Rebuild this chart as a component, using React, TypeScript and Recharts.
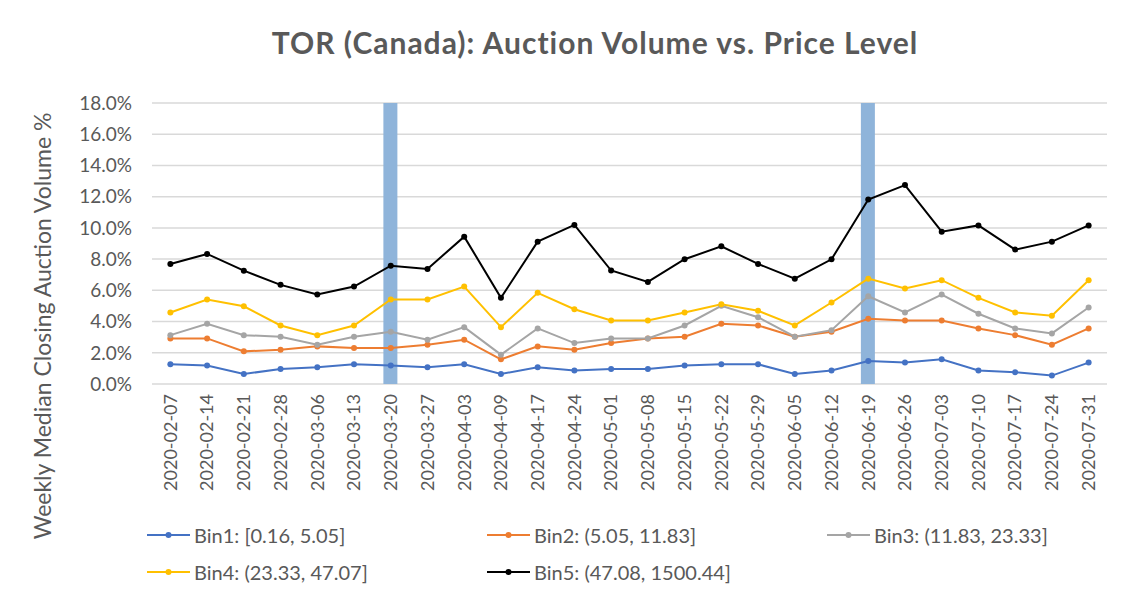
import React from "react";
import { ComposedChart, Line, Bar, XAxis, YAxis, CartesianGrid } from "recharts";

const WEEKS = [
  "2020-02-07", "2020-02-14", "2020-02-21", "2020-02-28", "2020-03-06", "2020-03-13",
  "2020-03-20", "2020-03-27", "2020-04-03", "2020-04-09", "2020-04-17", "2020-04-24",
  "2020-05-01", "2020-05-08", "2020-05-15", "2020-05-22", "2020-05-29", "2020-06-05",
  "2020-06-12", "2020-06-19", "2020-06-26", "2020-07-03", "2020-07-10", "2020-07-17",
  "2020-07-24", "2020-07-31",
];

// weekly median closing auction volume, in %
const BIN1 = [1.26, 1.18, 0.64, 0.96, 1.07, 1.26, 1.18, 1.07, 1.26, 0.64, 1.07, 0.86, 0.96, 0.96, 1.18, 1.26, 1.26, 0.64, 0.86, 1.47, 1.37, 1.58, 0.86, 0.75, 0.54, 1.37];
const BIN2 = [2.92, 2.92, 2.09, 2.2, 2.41, 2.3, 2.3, 2.52, 2.84, 1.58, 2.41, 2.2, 2.62, 2.92, 3.03, 3.86, 3.75, 3.03, 3.35, 4.18, 4.07, 4.07, 3.56, 3.13, 2.52, 3.56];
const BIN3 = [3.13, 3.86, 3.13, 3.03, 2.52, 3.03, 3.35, 2.84, 3.64, 1.88, 3.56, 2.62, 2.92, 2.92, 3.75, 5.01, 4.28, 3.03, 3.45, 5.62, 4.58, 5.73, 4.5, 3.56, 3.24, 4.9];
const BIN4 = [4.58, 5.41, 4.98, 3.75, 3.13, 3.75, 5.41, 5.41, 6.24, 3.64, 5.84, 4.79, 4.07, 4.07, 4.58, 5.11, 4.69, 3.75, 5.22, 6.75, 6.12, 6.65, 5.52, 4.58, 4.37, 6.65];
const BIN5 = [7.69, 8.33, 7.26, 6.35, 5.73, 6.24, 7.58, 7.37, 9.44, 5.52, 9.12, 10.19, 7.27, 6.54, 7.99, 8.82, 7.69, 6.75, 7.99, 11.82, 12.74, 9.76, 10.16, 8.61, 9.12, 10.16];

const HIGHLIGHT_WEEKS = ["2020-03-20", "2020-06-19"];
const HIGHLIGHT_LEVEL = 18;
const Y_TICKS = [0, 2, 4, 6, 8, 10, 12, 14, 16, 18];

const SERIES = [
  { key: "bin1", name: "Bin1: [0.16, 5.05]", color: "#4472C4", values: BIN1 },
  { key: "bin2", name: "Bin2: (5.05, 11.83]", color: "#ED7D31", values: BIN2 },
  { key: "bin3", name: "Bin3: (11.83, 23.33]", color: "#A5A5A5", values: BIN3 },
  { key: "bin4", name: "Bin4: (23.33, 47.07]", color: "#FFC000", values: BIN4 },
  { key: "bin5", name: "Bin5: (47.08, 1500.44]", color: "#000000", values: BIN5 },
];

const data = WEEKS.map((week, i) => {
  const row: Record<string, string | number | null> = {
    week,
    highlight: HIGHLIGHT_WEEKS.includes(week) ? HIGHLIGHT_LEVEL : null,
  };
  SERIES.forEach((s) => (row[s.key] = s.values[i]));
  return row;
});

const FONT = "Lato, 'Open Sans', sans-serif";
const TEXT = "#595959";

function WeekTick({ x, y, payload }: { x?: number; y?: number; payload?: { value: string } }) {
  return (
    <text
      x={x}
      y={y}
      transform={`rotate(-90, ${x}, ${y})`}
      textAnchor="end"
      dy="0.35em"
      fill={TEXT}
      fontSize={18}
      fontFamily={FONT}
    >
      {payload?.value}
    </text>
  );
}

export default function App() {
  return (
    <div style={{ position: "relative", width: 1144, height: 614, margin: -8, background: "#fff", fontFamily: FONT }}>
      <div
        style={{
          position: "absolute",
          left: 7,
          top: 4,
          width: 1136,
          height: 609,
          border: "1px solid #D9D9D9",
          boxSizing: "border-box",
        }}
      />
      <div
        style={{
          position: "absolute",
          left: 0,
          width: 1190,
          top: 24,
          textAlign: "center",
          fontSize: 30,
          letterSpacing: 1,
          fontWeight: 700,
          color: TEXT,
        }}
      >
        TOR (Canada): Auction Volume vs. Price Level
      </div>
      <div
        style={{
          position: "absolute",
          left: 42,
          top: 326,
          transform: "translate(-50%, -50%) rotate(-90deg)",
          whiteSpace: "nowrap",
          fontSize: 23,
          color: TEXT,
        }}
      >
        Weekly Median Closing Auction Volume %
      </div>
      <div style={{ position: "absolute", left: 0, top: 0 }}>
        <ComposedChart width={1144} height={614} data={data} margin={{ top: 103, right: 37, bottom: 120, left: 92 }}>
          <CartesianGrid vertical={false} stroke="#D9D9D9" strokeWidth={1.5} />
          <XAxis
            dataKey="week"
            axisLine={false}
            tickLine={false}
            interval={0}
            height={110}
            tickMargin={4}
            tick={<WeekTick />}
          />
          <YAxis
            domain={[0, 18]}
            ticks={Y_TICKS}
            width={60}
            axisLine={false}
            tickLine={false}
            tickMargin={14}
            tickFormatter={(v: number) => `${v.toFixed(1)}%`}
            tick={{ fill: TEXT, fontSize: 19, fontFamily: FONT }}
          />
          <Bar dataKey="highlight" barSize={14} fill="#8FB4DA" isAnimationActive={false} />
          {SERIES.map((s) => (
            <Line
              key={s.key}
              dataKey={s.key}
              name={s.name}
              stroke={s.color}
              strokeWidth={2}
              dot={{ r: 3, fill: s.color, stroke: s.color, strokeWidth: 0 }}
              activeDot={false}
              isAnimationActive={false}
            />
          ))}
        </ComposedChart>
      </div>
      {SERIES.map((s, i) => {
        const col = i < 3 ? i : i - 3;
        const row = i < 3 ? 0 : 1;
        return (
          <div
            key={s.key}
            style={{
              position: "absolute",
              left: 147 + col * 340,
              top: 535 + row * 37,
              transform: "translateY(-50%)",
              display: "flex",
              alignItems: "center",
              fontSize: 20,
              color: TEXT,
              whiteSpace: "nowrap",
            }}
          >
            <svg width={43} height={10} style={{ marginRight: 4 }}>
              <line x1={0} y1={5} x2={43} y2={5} stroke={s.color} strokeWidth={2} />
              <circle cx={21.5} cy={5} r={3} fill={s.color} />
            </svg>
            {s.name}
          </div>
        );
      })}
    </div>
  );
}
